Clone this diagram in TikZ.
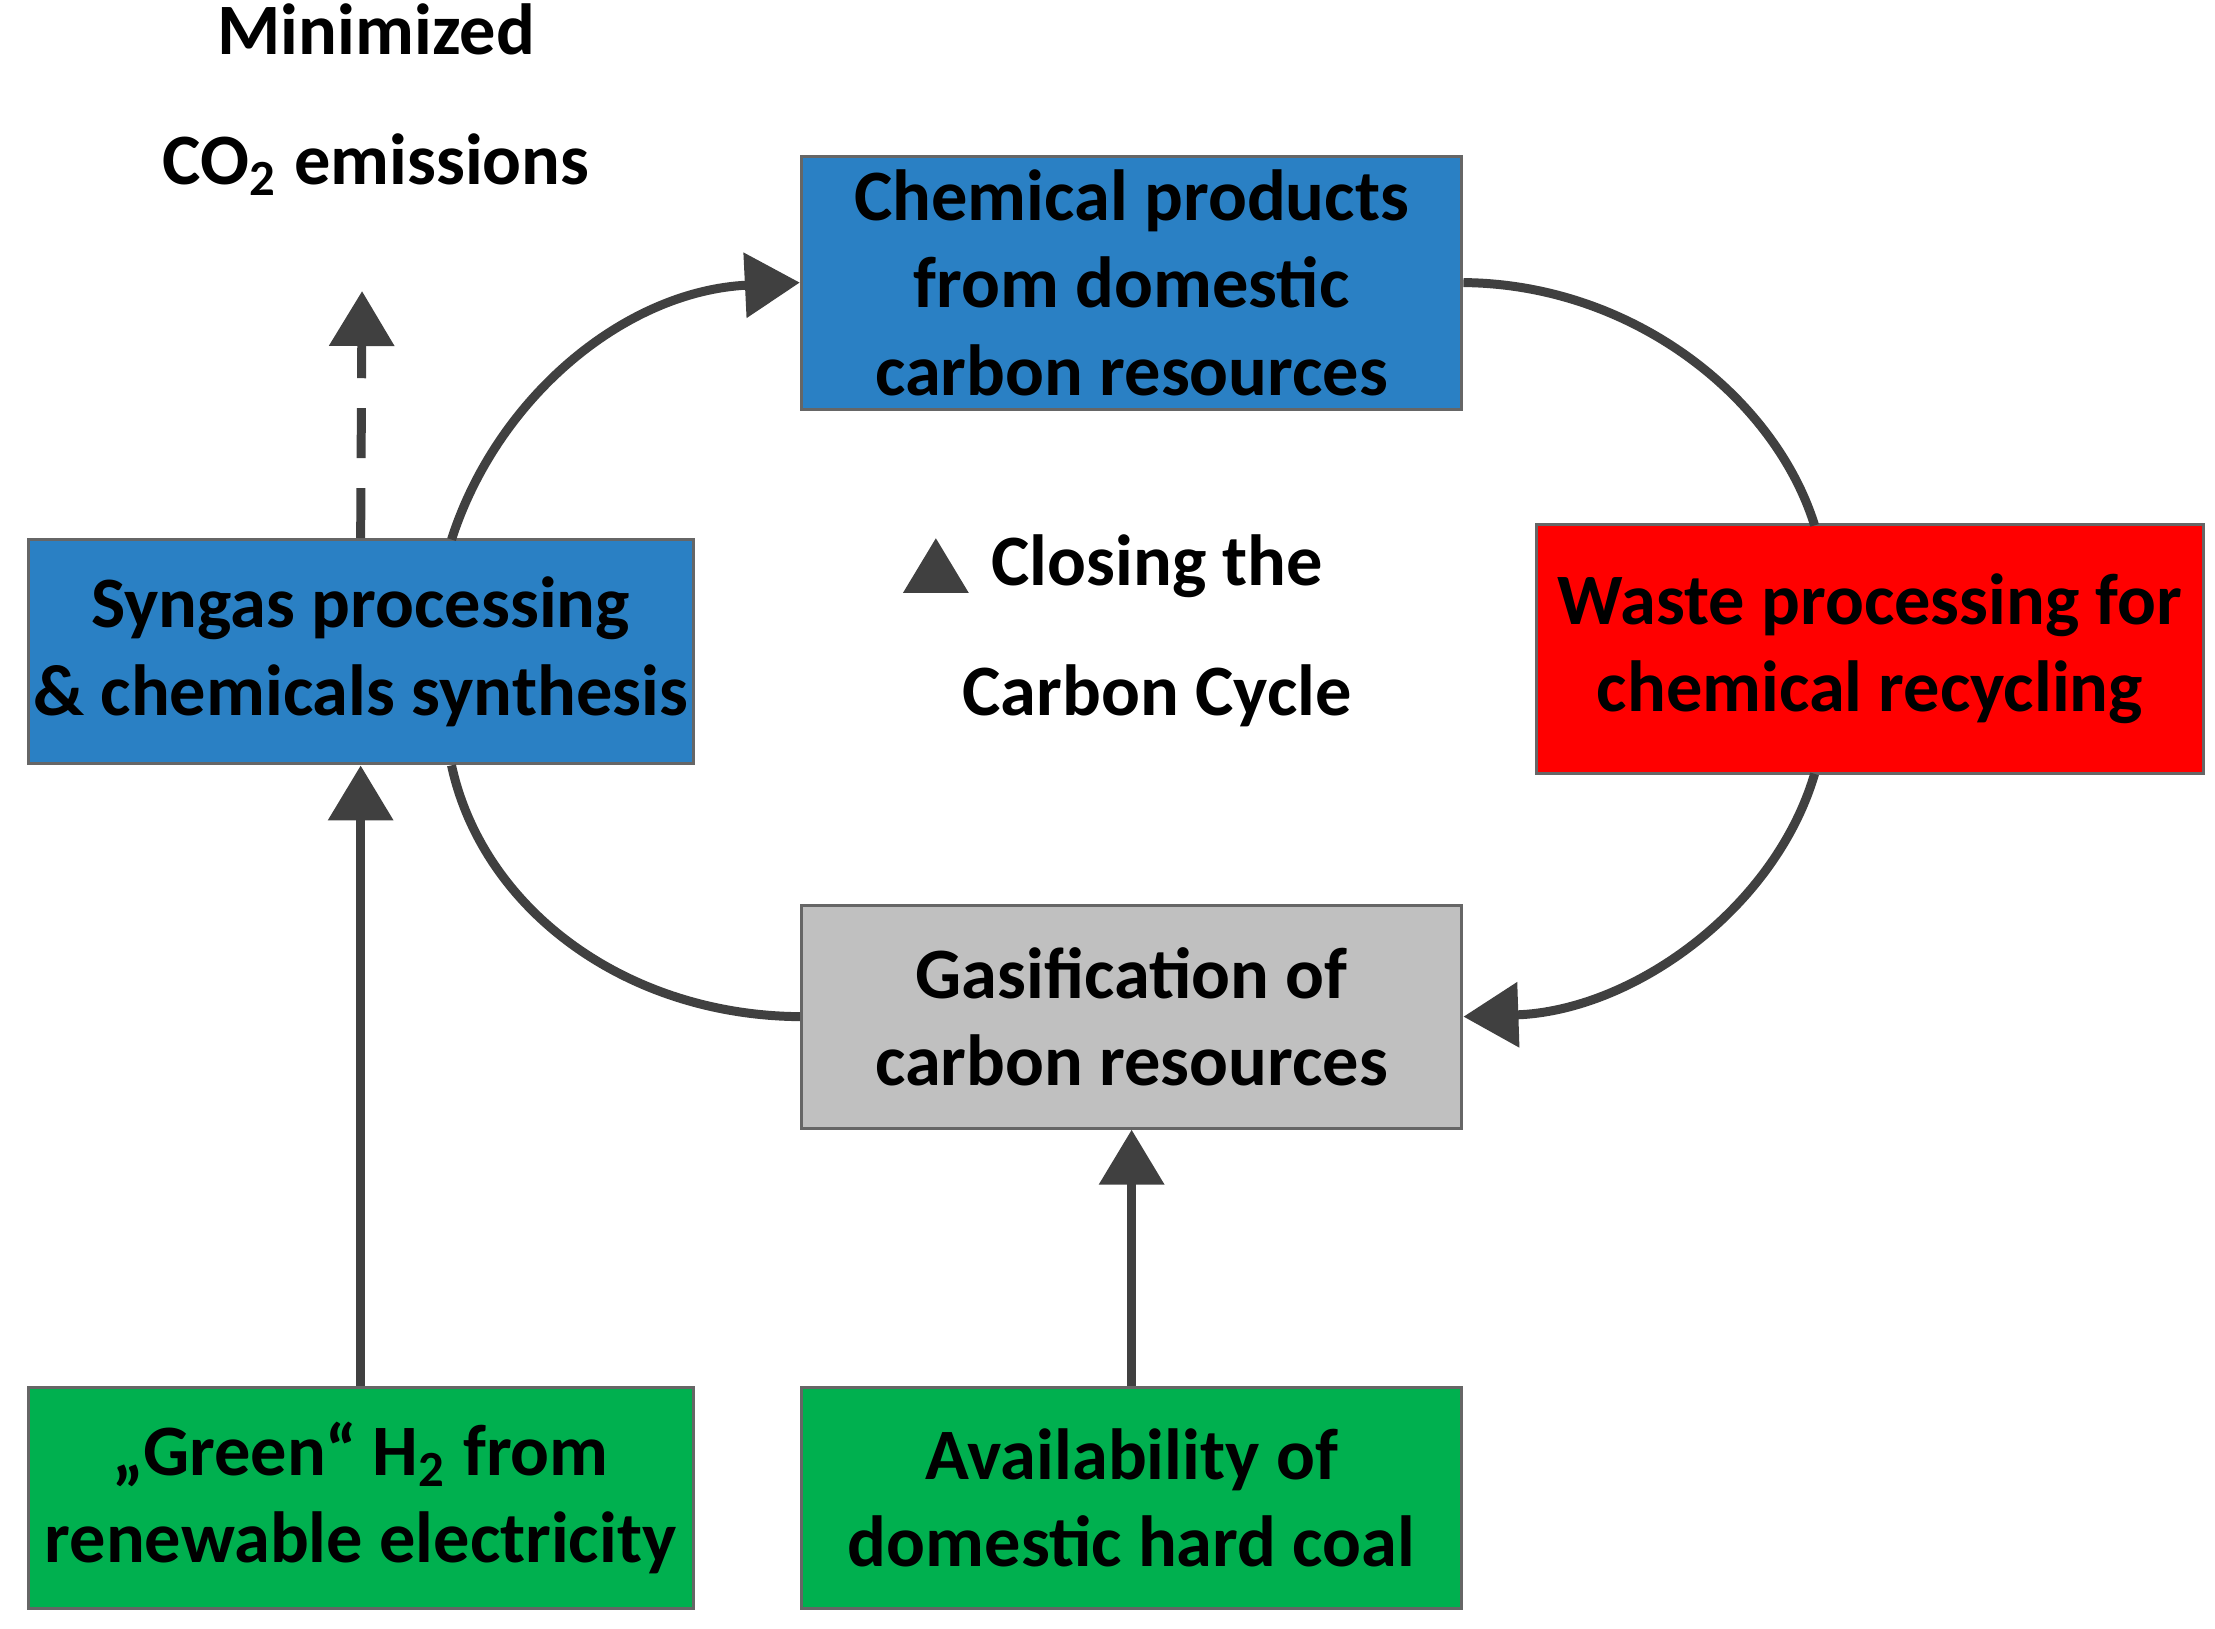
\documentclass[tikz,border=0pt]{standalone}
\usepackage{fontspec}
\setmainfont{Carlito}
\usetikzlibrary{arrows.meta}
\definecolor{bblue}{HTML}{2A80C4}
\definecolor{bred}{HTML}{FF0000}
\definecolor{bgray}{HTML}{C0C0C0}
\definecolor{bgreen}{HTML}{00B04F}
\definecolor{ln}{HTML}{404040}
\begin{document}
\begin{tikzpicture}[x=0.01cm,y=-0.01cm,
  box/.style={draw=gray!80!black,line width=0.6pt,minimum width=466\pgflinewidth,inner sep=0pt,align=center,font=\fontsize{14.5}{17.5}\selectfont\bfseries},
  con/.style={draw=ln,line width=1.8pt},
  tip/.style={-{Triangle[length=11pt,width=11pt,angle'=60]}}]
\useasboundingbox (0,0) rectangle (1560,1147);
\tikzset{mk/.style args={#1/#2/#3/#4/#5}{}}
\node[box,fill=bblue,minimum width=4.65cm,minimum height=1.78cm] (chem) at (797,199) {Chemical products\\from domestic\\carbon resources};
\node[box,fill=bblue,minimum width=4.68cm,minimum height=1.58cm] (syn) at (254,459) {Syngas processing\\\& chemicals synthesis};
\node[box,fill=bred,minimum width=4.69cm,minimum height=1.75cm] (waste) at (1317,457) {Waste processing for\\chemical recycling};
\node[box,fill=bgray,minimum width=4.65cm,minimum height=1.57cm] (gas) at (797,716) {Gasification of\\carbon resources};
\node[box,fill=bgreen,minimum width=4.68cm,minimum height=1.56cm] (h2) at (254,1055) {„Green“ H\textsubscript{2} from\\renewable electricity};
\node[box,fill=bgreen,minimum width=4.65cm,minimum height=1.56cm] (coal) at (797,1055) {Availability of\\domestic hard coal};
\node[align=center,font=\fontsize{14.5}{26}\selectfont\bfseries] (co2) at (265,70) {Minimized\\CO\textsubscript{2} emissions};
\node[align=center,font=\fontsize{14.5}{26}\selectfont\bfseries] (close) at (815,444) {Closing the\\Carbon Cycle};
\coordinate (co2end) at (255,205);
\draw[con,tip,dashed,dash pattern=on 10pt off 6pt] (syn.north) -- (co2end);
\draw[con,tip] (h2.north) -- (syn.south);
\draw[con,tip] (coal.north) -- (gas.south);
\draw[con,tip] ([xshift=64\pgflinewidth]syn.north) ++(0,0) coordinate (a1);
\coordinate (s1) at (318,380);
\coordinate (s2) at (318,539);
\coordinate (w1) at (1278,370);
\coordinate (w2) at (1278,545);
\draw[con,tip] (s1) .. controls (350,280) and (440,205) .. (chem.west);
\draw[con] (chem.east) .. controls (1150,200) and (1250,280) .. (w1);
\draw[con,tip] (w2) .. controls (1250,640) and (1150,712) .. (gas.east);
\draw[con] (gas.west) .. controls (440,715) and (340,640) .. (s2);
\end{tikzpicture}
\end{document}
